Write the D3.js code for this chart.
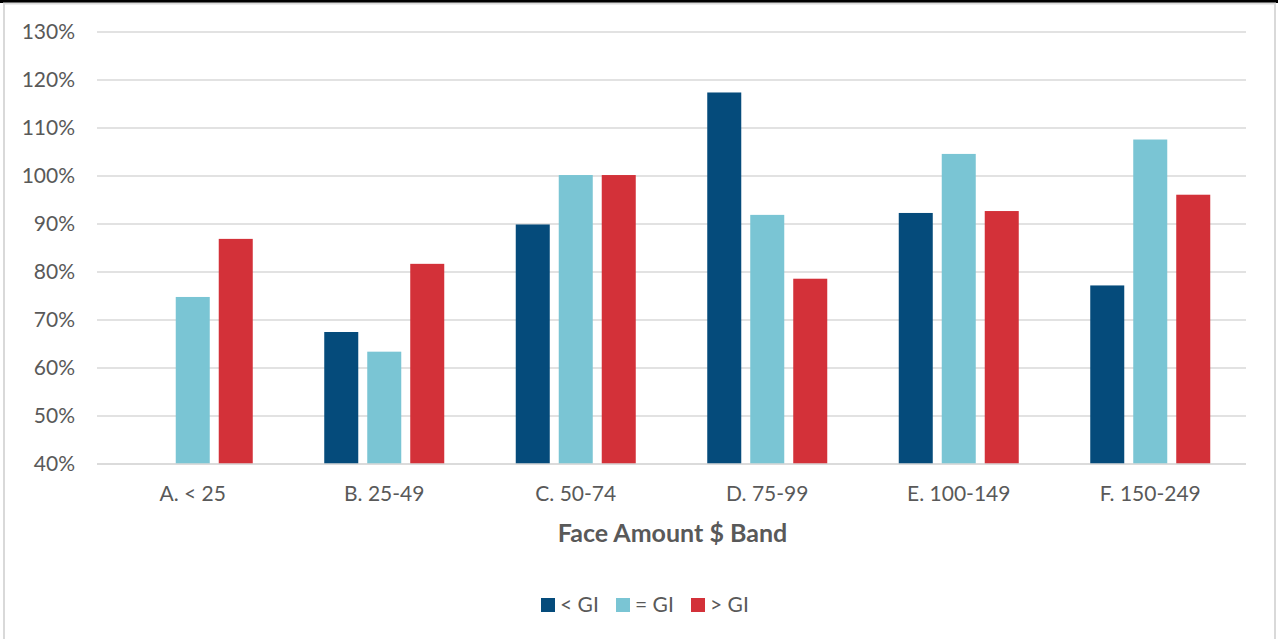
<!DOCTYPE html>
<html>
<head>
<meta charset="utf-8">
<script src="https://cdn.jsdelivr.net/npm/d3@7"></script>
<style>
  html, body { margin: 0; padding: 0; background: #fff; }
  svg { display: block; }
  text { font-family: Lato, "Open Sans", "Liberation Sans", sans-serif; fill: #595959; }
</style>
</head>
<body>
<svg id="chart" width="1278" height="639"></svg>
<script>
// Face amount bands along the x axis
const categories = ["A. < 25", "B. 25-49", "C. 50-74", "D. 75-99", "E. 100-149", "F. 150-249"];
// Series names (legend order)
const seriesNames = ["< GI", "= GI", "> GI"];
// Values in percent per series; null where no bar is shown
const lessGI    = [null, 67.5, 89.9, 117.4, 92.3, 77.2];
const equalGI   = [74.8, 63.4, 100.2, 91.9, 104.6, 107.6];
const greaterGI = [86.9, 81.7, 100.2, 78.6, 92.7, 96.1];
// Y axis ticks
const yTicks = [40, 50, 60, 70, 80, 90, 100, 110, 120, 130];
const xTitle = "Face Amount $ Band";

const colors = ["#054b7b", "#7ac5d4", "#d33139"];
const seriesValues = [lessGI, equalGI, greaterGI];

const svg = d3.select("#chart");
const W = 1278, H = 639;
const FONT = "Lato, 'Open Sans', sans-serif";

// frame
svg.append("rect").attr("x", 0).attr("y", 0).attr("width", W).attr("height", 3).attr("fill", "#000");
svg.append("rect").attr("x", 4).attr("y", 3.5).attr("width", W - 7).attr("height", H)
  .attr("fill", "none").attr("stroke", "#d9d9d9").attr("stroke-width", 2);

const plotLeft = 97, plotRight = W - 32;
const plotTop = 32, plotBottom = 464;

const y = d3.scaleLinear().domain([40, 130]).range([plotBottom, plotTop]);
const x0 = d3.scaleBand().domain(categories).range([plotLeft, plotRight]).paddingInner(0).paddingOuter(0);
const groupWidth = 120;
const x1 = d3.scaleBand().domain(seriesNames).range([0, groupWidth]).paddingInner(0.209);
const groupOffset = (x0.bandwidth() - groupWidth) / 2;

// gridlines
svg.append("g").selectAll("line").data(yTicks).join("line")
  .attr("x1", plotLeft).attr("x2", plotRight)
  .attr("y1", d => y(d)).attr("y2", d => y(d))
  .attr("stroke", "#d9d9d9").attr("stroke-width", 1.5);

// y axis labels
const yAxis = d3.axisLeft(y).tickValues(yTicks).tickFormat(d => d + "%").tickSize(0).tickPadding(22);
const gy = svg.append("g").attr("transform", `translate(${plotLeft},0)`).call(yAxis);
gy.select(".domain").remove();
gy.selectAll("text").attr("font-size", 21).attr("fill", "#595959").style("font-family", FONT);

// bars
const groups = svg.append("g").selectAll("g").data(categories).join("g")
  .attr("transform", d => `translate(${x0(d) + groupOffset},0)`);

groups.selectAll("rect")
  .data((c, i) => seriesNames.map((s, j) => ({ s, v: seriesValues[j][i], j })).filter(d => d.v != null))
  .join("rect")
  .attr("x", d => x1(d.s))
  .attr("width", x1.bandwidth())
  .attr("y", d => y(d.v))
  .attr("height", d => y(40) - y(d.v))
  .attr("fill", d => colors[d.j]);

// baseline
svg.append("line").attr("x1", plotLeft).attr("x2", plotRight)
  .attr("y1", plotBottom).attr("y2", plotBottom)
  .attr("stroke", "#d9d9d9").attr("stroke-width", 1.5);

// x axis labels
const xAxis = d3.axisBottom(x0).tickSize(0).tickPadding(22);
const gx = svg.append("g").attr("transform", `translate(0,${plotBottom})`).call(xAxis);
gx.select(".domain").remove();
gx.selectAll("text").attr("font-size", 21).attr("fill", "#595959").style("font-family", FONT);

// x axis title
svg.append("text").attr("x", (plotLeft + plotRight) / 2 + 1).attr("y", 542)
  .attr("text-anchor", "middle").attr("font-size", 25).attr("font-weight", "bold")
  .text(xTitle);

// legend
const legendX = [541, 616, 691];
const legend = svg.append("g").selectAll("g").data(seriesNames).join("g")
  .attr("transform", (d, i) => `translate(${legendX[i]},598)`);
legend.append("rect").attr("width", 14).attr("height", 14).attr("fill", (d, i) => colors[i]);
legend.append("text").attr("x", 19).attr("y", 14).attr("font-size", 21).text(d => d);
</script>
</body>
</html>
